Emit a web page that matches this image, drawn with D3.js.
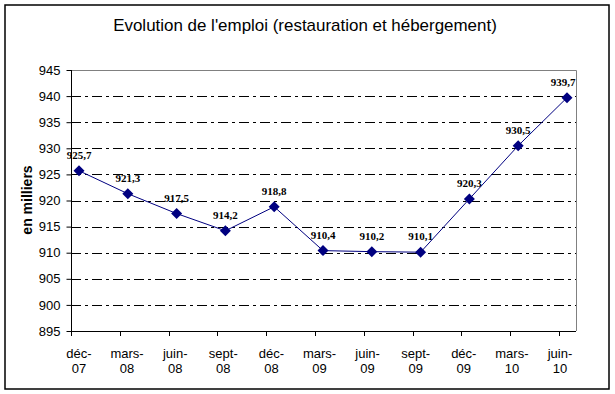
<!DOCTYPE html>
<html><head><meta charset="utf-8">
<script src="https://cdn.jsdelivr.net/npm/d3@7"></script>
<style>body{margin:0;background:#fff}svg{display:block}</style>
</head><body>
<svg id="c" width="615" height="394"></svg>
<script>
const categories = ["déc-07","mars-08","juin-08","sept-08","déc-08","mars-09","juin-09","sept-09","déc-09","mars-10","juin-10"];
const values = [925.7, 921.3, 917.5, 914.2, 918.8, 910.4, 910.2, 910.1, 920.3, 930.5, 939.7];
const valueLabels = ["925,7","921,3","917,5","914,2","918,8","910,4","910,2","910,1","920,3","930,5","939,7"];
const yTicks = [895, 900, 905, 910, 915, 920, 925, 930, 935, 940, 945];
const title = "Evolution de l'emploi (restauration et hébergement)";
const yTitle = "en milliers";

const svg = d3.select("#c");
const plotL = 71, plotR = 576, plotT = 70, plotB = 331;

// outer frame
svg.append("rect").attr("x",5).attr("y",5).attr("width",604).attr("height",384)
  .attr("fill","#fff").attr("stroke","#000").attr("stroke-width",1.5);

const x = d3.scalePoint().domain(categories).range([79, 567]);
const xLab = d3.scalePoint().domain(categories).range([79, 560]);
const y = d3.scaleLinear().domain([895, 945]).range([plotB, plotT]);

// title
const t = svg.append("text").attr("x",305).attr("y",31).attr("text-anchor","middle")
  .attr("font-family","Liberation Sans, Arial, sans-serif").attr("font-size",16)
  .attr("fill","#000").text(title);
const w = t.node().getComputedTextLength();
t.attr("font-size", 16*384/w);

// gridlines
svg.append("g").selectAll("line").data(yTicks.filter(v=>v>895 && v<945)).join("line")
  .attr("x1",plotL).attr("x2",plotR).attr("y1",d=>Math.round(y(d))+0.5).attr("y2",d=>Math.round(y(d))+0.5)
  .attr("stroke","#000").attr("stroke-width",1).attr("stroke-dasharray","10,4,3,4");

// plot frame (top & right gray)
svg.append("path").attr("d",`M${plotL},${plotT+0.5}H${plotR+0.5}V${plotB}`)
  .attr("fill","none").attr("stroke","#808080").attr("stroke-width",1);

// y axis
const yAxis = d3.axisLeft(y).tickValues(yTicks).tickSize(5).tickPadding(6).tickFormat(d3.format("d"));
const gy = svg.append("g").attr("transform",`translate(${plotL+0.5},0)`).call(yAxis);
gy.selectAll("text").attr("font-family","Liberation Sans, Arial, sans-serif").attr("font-size",13).attr("fill","#000");
gy.selectAll("line").attr("stroke","#000");
gy.select(".domain").attr("stroke","#000").attr("d",`M0,${plotT}V${plotB}`);

// x axis: line, ticks, labels
svg.append("line").attr("x1",plotL).attr("x2",plotR).attr("y1",plotB+0.5).attr("y2",plotB+0.5).attr("stroke","#000");
svg.append("g").selectAll("line").data(categories).join("line")
  .attr("x1",d=>Math.round(x(d)-8)+0.5).attr("x2",d=>Math.round(x(d)-8)+0.5)
  .attr("y1",plotB).attr("y2",plotB+5).attr("stroke","#000");
const xl = svg.append("g").selectAll("text").data(categories).join("text")
  .attr("text-anchor","middle").attr("font-family","Liberation Sans, Arial, sans-serif")
  .attr("font-size",13).attr("fill","#000");
xl.append("tspan").attr("x",d=>xLab(d)).attr("y",358).text(d=>d.split("-")[0]+"-");
xl.append("tspan").attr("x",d=>xLab(d)).attr("y",373).text(d=>d.split("-")[1]);

// y title
svg.append("text").attr("transform","translate(32,200) rotate(-90)").attr("text-anchor","middle")
  .attr("font-family","Liberation Sans, Arial, sans-serif").attr("font-size",14).attr("font-weight","bold")
  .attr("fill","#000").text(yTitle);

// line
const line = d3.line().x((d,i)=>x(categories[i])).y(d=>y(d));
svg.append("path").datum(values).attr("d",line).attr("fill","none").attr("stroke","#000080").attr("stroke-width",1);

// markers
svg.append("g").selectAll("path").data(values).join("path")
  .attr("transform",(d,i)=>`translate(${x(categories[i])},${y(d)})`)
  .attr("d","M0,-5.5L5.5,0L0,5.5L-5.5,0Z").attr("fill","#000080");

// data labels
svg.append("g").selectAll("text").data(values).join("text")
  .attr("x",(d,i)=>Math.min(x(categories[i]), 563)).attr("y",d=>y(d)-12)
  .attr("text-anchor","middle").attr("font-family","Liberation Serif, Times New Roman, serif")
  .attr("font-size",11).attr("font-weight","bold").attr("fill","#000")
  .text((d,i)=>valueLabels[i]);
</script>
</body></html>
